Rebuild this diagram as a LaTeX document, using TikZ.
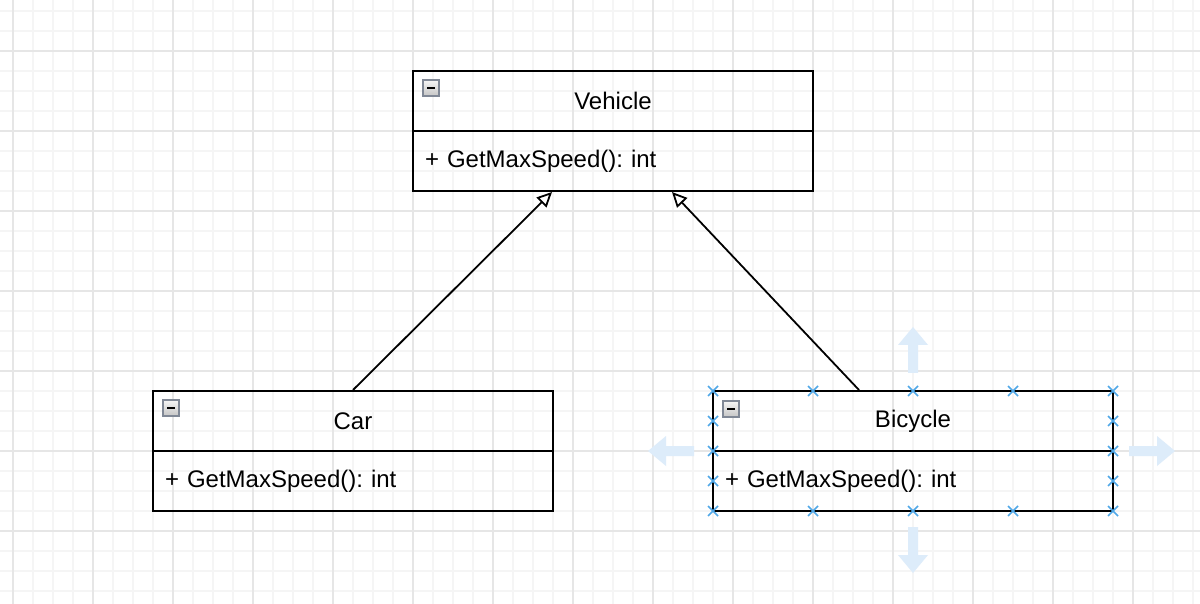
\documentclass[tikz,border=0pt]{standalone}
\usepackage{fontspec}
\setmainfont{Liberation Sans}
\usepackage{xcolor}
\usepackage{tikz}
\usetikzlibrary{arrows.meta}
\frenchspacing

\definecolor{gridminor}{RGB}{245,245,245}
\definecolor{gridmajor}{RGB}{230,230,230}
\definecolor{handleblue}{RGB}{80,168,232}
\definecolor{moveblue}{RGB}{221,236,250}
\definecolor{iconframe}{RGB}{128,136,150}

\begin{document}
\begin{tikzpicture}[x=0.5pt,y=-0.5pt]
				\useasboundingbox (0,0) rectangle (1200,604);
				\fill[white] (0,0) rectangle (1200,604);

				% background grid
				\foreach \x in {13,33,...,1193} \draw[gridminor,line width=0.6pt] (\x,0) -- (\x,604);
				\foreach \y in {11,31,...,591} \draw[gridminor,line width=0.6pt] (0,\y) -- (1200,\y);
				\foreach \x in {13,93,...,1133} \draw[gridmajor,line width=0.6pt] (\x,0) -- (\x,604);
				\foreach \y in {51,131,...,531} \draw[gridmajor,line width=0.6pt] (0,\y) -- (1200,\y);

				\begin{scope}[every node/.style={draw=black,line width=1pt,minimum width=200pt,minimum height=30pt,inner sep=0pt,font=\fontsize{12}{14}\selectfont}]
				    \node (vehicle) at (613,101) {Vehicle};
				    \node[text width=188pt,align=left] (vehiclebody) at (613,161) {+ GetMaxSpeed(): int};
				    \node (car) at (353,421) {Car};
				    \node[text width=188pt,align=left] (carbody) at (353,481) {+ GetMaxSpeed(): int};
				    \node (bicycle) at (913,421) {Bicycle};
				    \node[text width=188pt,align=left] (bicyclebody) at (913,481) {+ GetMaxSpeed(): int};
				\end{scope}

				\begin{scope}[every node/.style={rectangle,draw=iconframe,line width=0.6pt,minimum size=8pt,inner sep=0pt,
				              top color=gray!8,bottom color=gray!45,
				              path picture={\draw[black,line width=0.9pt] ([xshift=2pt]path picture bounding box.west) -- ([xshift=-2pt]path picture bounding box.east);}}]
				    \node (vehicleminus) at (431,88) {};
				    \node (carminus) at (171,408) {};
				    \node (bicycleminus) at (731,409) {};
				\end{scope}

				\begin{scope}[>={Triangle[open,length=7.5pt,width=7pt]},
				              every edge/.style={draw=black,line width=0.9pt}]
				    \path [->] (car.north) edge ([xshift=-30.5pt]vehiclebody.south);
				    \path [->] ([xshift=-27pt]bicycle.north) edge ([xshift=29.5pt]vehiclebody.south);
				\end{scope}

				% selection handles round Bicycle
				\begin{scope}[handleblue,line width=0.8pt]
				    \foreach \x in {713,813,...,1113}
				        \foreach \y in {391,511}
				            \draw (\x-5,\y-5) -- (\x+5,\y+5) (\x-5,\y+5) -- (\x+5,\y-5);
				    \foreach \x in {713,1113}
				        \foreach \y in {421,451,481}
				            \draw (\x-5,\y-5) -- (\x+5,\y+5) (\x-5,\y+5) -- (\x+5,\y-5);
				\end{scope}

				\foreach \cx/\cy/\ang in {913/350/0,913/550/180,671/451/90,1152/451/-90}
				    \fill[moveblue,shift={(\cx,\cy)},rotate=\ang]
				        (-5,23) -- (-5,-5) -- (-15,-5) -- (0,-23) -- (15,-5) -- (5,-5) -- (5,23) -- cycle;
\end{tikzpicture}
\end{document}
